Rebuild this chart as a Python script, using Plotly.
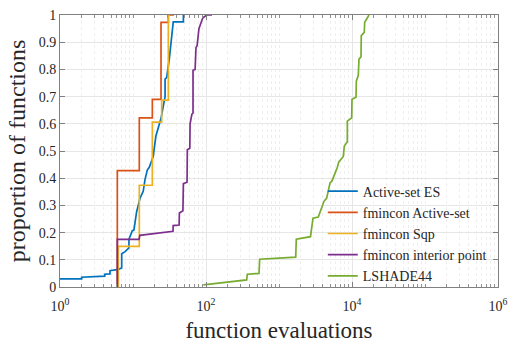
import plotly.graph_objects as go

# Empirical distributions of function evaluations (proportion of functions solved)
active_set_es_x = [1, 1.98, 1.98, 4.1, 4.1, 4.84, 4.84, 6.3, 7.0, 7.0, 7.8, 8.8, 8.8, 9.8, 10.3,
                   11.2, 12.5, 13.8, 14.6, 15.7, 16.7, 18.9, 20.6, 22.9, 24.2, 26.0, 27.5, 27.5,
                   28.9, 31.4, 33.5, 35.6, 49, 49, 51.5]
active_set_es_p = [0.03, 0.03, 0.036, 0.04, 0.047, 0.048, 0.06, 0.065, 0.07, 0.122, 0.13, 0.144,
                   0.176, 0.207, 0.21, 0.276, 0.327, 0.352, 0.395, 0.43, 0.44, 0.48, 0.555, 0.604,
                   0.62, 0.665, 0.70, 0.764, 0.77, 0.838, 0.90, 0.975, 0.975, 1.0, 1.0]

fmincon_as_x = [6.1, 6.1, 12.2, 12.2, 18.4, 18.4, 24.2, 24.2, 30.5, 30.5, 36.5]
fmincon_as_p = [0.0, 0.428, 0.428, 0.622, 0.622, 0.69, 0.69, 0.973, 0.973, 1.0, 1.0]

fmincon_sqp_x = [6.3, 6.3, 12.2, 12.2, 18.4, 18.4, 24.7, 24.7, 30.5, 30.5, 32.0]
fmincon_sqp_p = [0.0, 0.149, 0.149, 0.374, 0.374, 0.606, 0.606, 0.687, 0.687, 1.0, 1.0]

fmincon_ip_x = [6.1, 6.1, 12.1, 12.4, 18.2, 35.3, 35.5, 42.8, 43.2, 48.3, 49, 55, 55.5, 60,
                60.5, 64, 66.4, 66.4, 71, 72.9, 75.5, 80, 85, 90.6, 103, 121]
fmincon_ip_p = [0.0, 0.175, 0.175, 0.19, 0.195, 0.205, 0.226, 0.228, 0.272, 0.28, 0.38, 0.385,
                0.505, 0.51, 0.60, 0.635, 0.64, 0.797, 0.80, 0.88, 0.887, 0.95, 0.97, 0.99, 1.0, 1.0]

lshade44_x = [91.8, 361, 368, 532, 544, 1694, 1726, 2700, 2923, 3452, 4133, 4500, 5000, 5325,
              6300, 6600, 7600, 7850, 8630, 8630, 9900, 10000, 11350, 11460, 12200, 12470,
              13280, 13400, 14720, 14920, 17100]
lshade44_p = [0.008, 0.026, 0.047, 0.05, 0.102, 0.11, 0.176, 0.185, 0.253, 0.257, 0.315, 0.327,
              0.383, 0.39, 0.44, 0.46, 0.48, 0.518, 0.534, 0.61, 0.622, 0.69, 0.698, 0.757,
              0.778, 0.838, 0.846, 0.924, 0.936, 0.973, 1.0]

series = [
    ("Active-set ES", active_set_es_x, active_set_es_p, "#0072BD"),
    ("fmincon Active-set", fmincon_as_x, fmincon_as_p, "#D95319"),
    ("fmincon Sqp", fmincon_sqp_x, fmincon_sqp_p, "#EDB120"),
    ("fmincon interior point", fmincon_ip_x, fmincon_ip_p, "#7E2F8E"),
    ("LSHADE44", lshade44_x, lshade44_p, "#77AC30"),
]

x_major = [1, 1e2, 1e4, 1e6]
x_major_text = ["10<sup>0</sup>", "10<sup>2</sup>", "10<sup>4</sup>", "10<sup>6</sup>"]
x_minor = [m * 10 ** k for k in range(6) for m in range(1, 10) if not (m == 1 and k % 2 == 0)]
y_ticks = [0, 0.1, 0.2, 0.3, 0.4, 0.5, 0.6, 0.7, 0.8, 0.9, 1]
y_tick_text = ["0", "0.1", "0.2", "0.3", "0.4", "0.5", "0.6", "0.7", "0.8", "0.9", "1"]

FONT = "Liberation Serif"

fig = go.Figure()
for name, xs, ps, color in series:
    fig.add_trace(go.Scatter(x=xs, y=ps, mode="lines", name=name,
                             line=dict(color=color, width=1.7)))

fig.update_layout(
    width=511, height=343,
    margin=dict(l=60, r=13, t=15, b=56),
    paper_bgcolor="white", plot_bgcolor="white",
    font=dict(family=FONT, color="#262626", size=14),
    showlegend=True,
    legend=dict(x=0.6, y=0.41, xanchor="left", yanchor="top",
                bgcolor="rgba(0,0,0,0)", borderwidth=0,
                font=dict(family=FONT, size=14, color="#262626"),
                tracegroupgap=0, itemwidth=30),
)

fig.update_xaxes(
    type="log", range=[0, 6], automargin=False,
    tickmode="array", tickvals=x_major, ticktext=x_major_text,
    ticks="inside", ticklen=5, tickcolor="#808080",
    showline=True, linecolor="#808080", linewidth=1, mirror="ticks",
    showgrid=True, gridcolor="#e6e6e6", gridwidth=1,
    zeroline=False, ticklabelstandoff=6,
    tickfont=dict(family=FONT, size=14, color="#262626"),
    minor=dict(tickmode="array", tickvals=x_minor, ticks="inside", ticklen=3,
               tickcolor="#909090", showgrid=True, gridcolor="#efefef", griddash="dot"),
    title=dict(text="function evaluations", font=dict(family=FONT, size=23, color="#262626"),
               standoff=16),
)

fig.update_yaxes(
    range=[0, 1], automargin=False,
    tickmode="array", tickvals=y_ticks, ticktext=y_tick_text,
    ticks="inside", ticklen=5, tickcolor="#808080",
    showline=True, linecolor="#808080", linewidth=1, mirror="ticks",
    showgrid=True, gridcolor="#e6e6e6", gridwidth=1,
    zeroline=False,
    tickfont=dict(family=FONT, size=14, color="#262626"),
    title=dict(text="proportion of functions", font=dict(family=FONT, size=24, color="#262626"),
               standoff=6),
)

fig.write_html("out.html")
